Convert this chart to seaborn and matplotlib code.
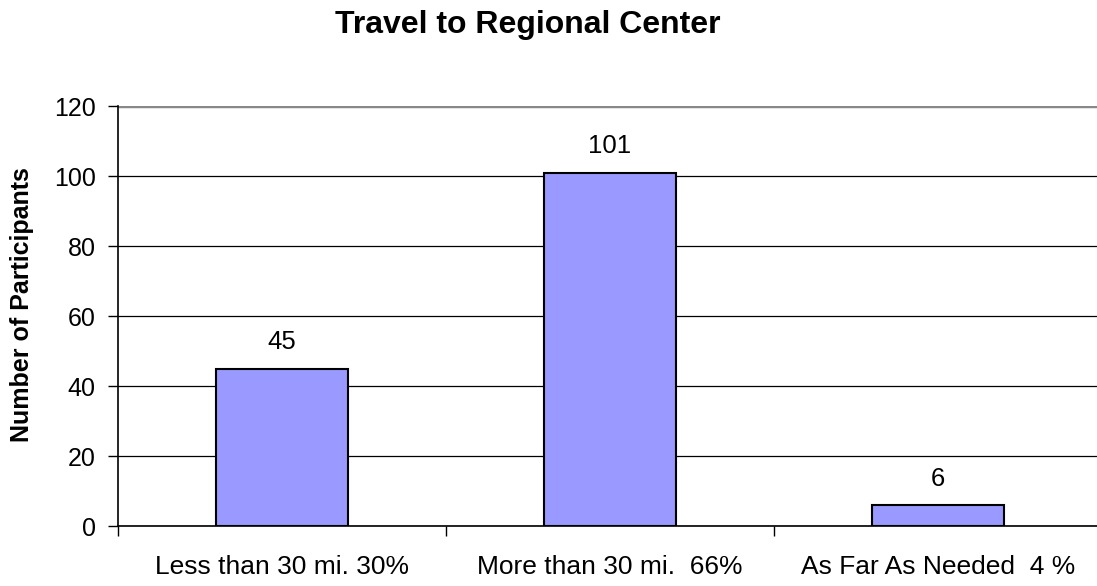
import matplotlib
matplotlib.use("Agg")
import matplotlib.pyplot as plt
import seaborn as sns
import pandas as pd

categories = ["Less than 30 mi. 30%", "More than 30 mi.  66%", "As Far As Needed  4 %"]
values = [45, 101, 6]
yticks = [0, 20, 40, 60, 80, 100, 120]

sns.set_theme(style="white")
plt.rcParams['font.family'] = ['Liberation Sans', 'DejaVu Sans']
plt.rcParams['text.color'] = 'black'
plt.rcParams['axes.labelcolor'] = 'black'
plt.rcParams['xtick.color'] = 'black'
plt.rcParams['ytick.color'] = 'black'

df = pd.DataFrame({"cat": categories, "val": values})

fig = plt.figure(figsize=(10.97, 5.86), dpi=100)
W, H = 1097, 586
left, right, top, bottom = 118, 1102, 106, 526
ax = fig.add_axes([left / W, 1 - bottom / H, (right - left) / W, (bottom - top) / H])

sns.barplot(data=df, x="cat", y="val", color="#9999FF", saturation=1,
            edgecolor="black", linewidth=1.5, width=0.4, ax=ax, zorder=3)

ax.set_xlim(-0.5, 2.5)
ax.set_ylim(0, 120)
ax.set_yticks(yticks)
ax.yaxis.grid(True, color="black", linewidth=0.9, zorder=0)
ax.set_axisbelow(True)

for i, v in enumerate(values):
    ax.annotate(str(v), (i, v), xytext=(0, 14), textcoords="offset points",
                ha="center", va="baseline", fontsize=18.5)

ax.set_xticks([0, 1, 2])
ax.set_xticklabels(categories, fontsize=19)
ax.set_xticks([-0.5, 0.5, 1.5, 2.5], minor=True)
ax.tick_params(axis="x", which="major", length=0, pad=21)
ax.tick_params(axis="x", which="minor", length=7, width=1, color="black", direction="out", bottom=True)
ax.tick_params(axis="y", length=7, width=1, color="black", direction="out", left=True, labelsize=18, pad=9)

for s in ["top", "right"]:
    ax.spines[s].set_visible(False)
for s in ["left", "bottom"]:
    ax.spines[s].set_color("black")
    ax.spines[s].set_linewidth(1.2)
ax.spines["bottom"].set_zorder(4)
ax.axhline(120, color="#888888", linewidth=2.5, zorder=2)

ax.set_xlabel("")
ax.set_ylabel("")
fig.text(22.5 / W, 1 - 305 / H, "Number of Participants", rotation=90, ha="center", va="center",
         fontsize=18, fontweight="bold")
fig.text(528 / W, 1 - 33 / H, "Travel to Regional Center", ha="center", va="baseline",
         fontsize=23, fontweight="bold")

fig.savefig("out.png", dpi=100)
